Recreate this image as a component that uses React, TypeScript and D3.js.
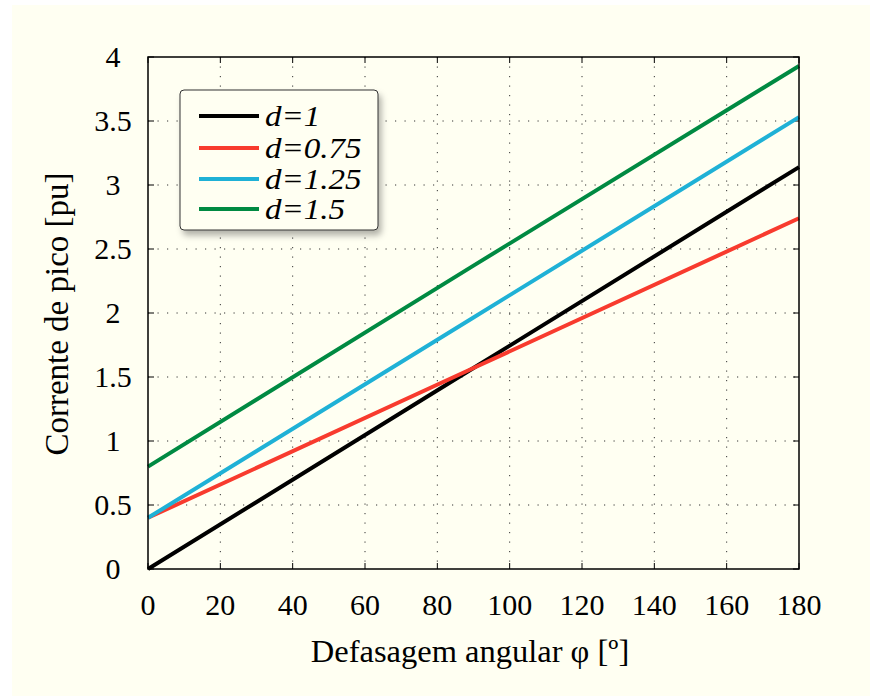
import { useRef, useEffect } from 'react'
import * as d3 from 'd3'

const W = 870
const H = 696
const MARGIN = { top: 57, right: 71, bottom: 127, left: 148 }

const PHI = [0, 90, 180]
const D_1 = [0, 1.57, 3.14]
const D_075 = [0.4, 1.57, 2.74]
const D_125 = [0.4, 1.965, 3.53]
const D_15 = [0.8, 2.37, 3.93]

const SERIES = [
  { label: 'd=1', values: D_1, color: '#000000' },
  { label: 'd=0.75', values: D_075, color: '#f83b2e' },
  { label: 'd=1.25', values: D_125, color: '#1fb1d6' },
  { label: 'd=1.5', values: D_15, color: '#008a42' },
]

const X_TICKS = [0, 20, 40, 60, 80, 100, 120, 140, 160, 180]
const Y_TICKS = [0, 0.5, 1, 1.5, 2, 2.5, 3, 3.5, 4]

const BG = '#fffff2'
const FONT = '"Liberation Serif", "Times New Roman", serif'

export default function App() {
  const svgRef = useRef<SVGSVGElement>(null)

  useEffect(() => {
    if (!svgRef.current) return
    const innerW = W - MARGIN.left - MARGIN.right
    const innerH = H - MARGIN.top - MARGIN.bottom

    const el = d3.select(svgRef.current)
    el.selectAll('*').remove()
    el.attr('width', W).attr('height', H)

    const defs = el.append('defs')
    defs.append('filter').attr('id', 'legShadow').attr('x', '-20%').attr('y', '-20%').attr('width', '150%').attr('height', '150%')
      .append('feDropShadow').attr('dx', 3).attr('dy', 5).attr('stdDeviation', 3)
      .attr('flood-color', '#000').attr('flood-opacity', 0.3)

    el.append('rect').attr('width', W).attr('height', H).attr('fill', '#ffffff')
    el.append('rect').attr('x', 12).attr('y', 5).attr('width', W - 12).attr('height', H - 5).attr('fill', BG)

    const svg = el.append('g').attr('transform', `translate(${MARGIN.left},${MARGIN.top})`)

    const x = d3.scaleLinear().domain([0, 180]).range([0, innerW])
    const y = d3.scaleLinear().domain([0, 4]).range([innerH, 0])

    // dotted grid
    svg.append('g')
      .selectAll('line')
      .data(X_TICKS.slice(1, -1))
      .join('line')
      .attr('x1', (d) => x(d)).attr('x2', (d) => x(d))
      .attr('y1', 0).attr('y2', innerH)
      .attr('stroke', '#333').attr('stroke-width', 1).attr('stroke-dasharray', '1.2,8.3')
    svg.append('g')
      .selectAll('line')
      .data(Y_TICKS.slice(1, -1))
      .join('line')
      .attr('x1', 0).attr('x2', innerW)
      .attr('y1', (d) => y(d)).attr('y2', (d) => y(d))
      .attr('stroke', '#333').attr('stroke-width', 1).attr('stroke-dasharray', '1.2,8.3')

    // inward ticks on all sides
    const tickLen = 6
    const ticks = svg.append('g').attr('stroke', '#000').attr('stroke-width', 1)
    X_TICKS.forEach((t) => {
      ticks.append('line').attr('x1', x(t)).attr('x2', x(t)).attr('y1', innerH).attr('y2', innerH - tickLen)
      ticks.append('line').attr('x1', x(t)).attr('x2', x(t)).attr('y1', 0).attr('y2', tickLen)
    })
    Y_TICKS.forEach((t) => {
      ticks.append('line').attr('x1', 0).attr('x2', tickLen).attr('y1', y(t)).attr('y2', y(t))
      ticks.append('line').attr('x1', innerW).attr('x2', innerW - tickLen).attr('y1', y(t)).attr('y2', y(t))
    })

    // series lines
    const line = d3.line<number>()
      .x((_, i) => x(PHI[i]))
      .y((d) => y(d))

    SERIES.forEach((s) => {
      svg.append('path')
        .datum(s.values)
        .attr('fill', 'none')
        .attr('stroke', s.color)
        .attr('stroke-width', 4)
        .attr('d', line)
    })

    // frame
    svg.append('rect').attr('width', innerW).attr('height', innerH)
      .attr('fill', 'none').attr('stroke', '#000').attr('stroke-width', 1.5)

    // tick labels
    svg.append('g').selectAll('text')
      .data(X_TICKS)
      .join('text')
      .attr('x', (d) => x(d))
      .attr('y', innerH + 46)
      .attr('text-anchor', 'middle')
      .attr('font-family', FONT).attr('font-size', 30).attr('fill', '#000')
      .text((d) => d)

    svg.append('g').selectAll('text')
      .data(Y_TICKS)
      .join('text')
      .attr('x', -35)
      .attr('y', (d) => y(d) + 10)
      .attr('text-anchor', 'middle')
      .attr('font-family', FONT).attr('font-size', 30).attr('fill', '#000')
      .text((d) => d)

    // axis titles
    el.append('text')
      .attr('x', 470).attr('y', 662)
      .attr('text-anchor', 'middle')
      .attr('font-family', FONT).attr('font-size', 32.5).attr('fill', '#000')
      .text('Defasagem angular φ [º]')

    el.append('text')
      .attr('transform', `translate(68,314) rotate(-90)`)
      .attr('text-anchor', 'middle')
      .attr('font-family', FONT).attr('font-size', 33).attr('fill', '#000')
      .text('Corrente de pico [pu]')

    // legend
    const leg = el.append('g').attr('transform', 'translate(180,90)')
    leg.append('rect').attr('width', 198).attr('height', 140).attr('rx', 4)
      .attr('fill', BG).attr('stroke', '#333').attr('stroke-width', 1)
      .attr('filter', 'url(#legShadow)')
    const rowY = [26, 58, 89, 119]
    SERIES.forEach((s, i) => {
      leg.append('line').attr('x1', 19).attr('x2', 79).attr('y1', rowY[i]).attr('y2', rowY[i])
        .attr('stroke', s.color).attr('stroke-width', 4)
      leg.append('text')
        .attr('transform', `translate(85,${rowY[i] + 9.5}) scale(1.12,1)`)
        .attr('font-family', FONT).attr('font-style', 'italic').attr('font-size', 29.5).attr('fill', '#000')
        .text(s.label)
    })
  }, [])

  return (
    <div style={{ position: 'absolute', left: 0, top: 0 }}>
      <svg ref={svgRef} style={{ display: 'block' }} />
    </div>
  )
}
